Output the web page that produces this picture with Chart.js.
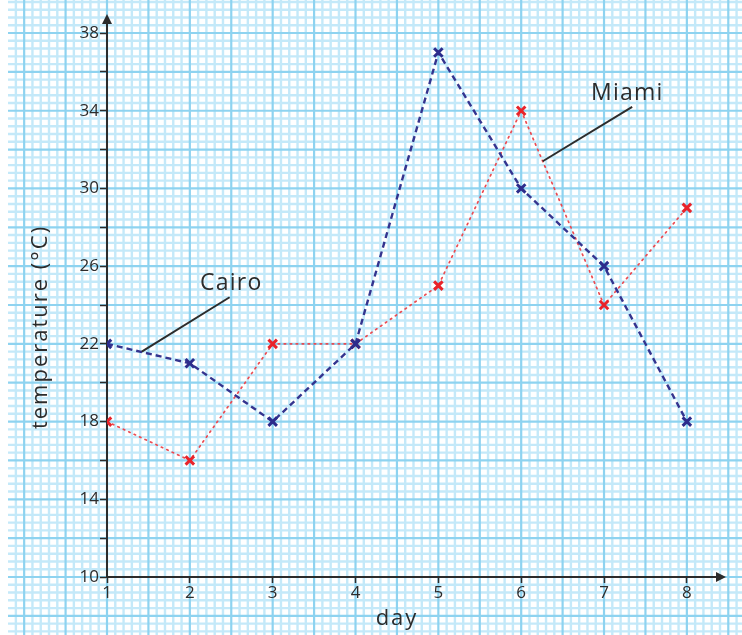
<!DOCTYPE html>
<html>
<head>
<meta charset="utf-8">
<script src="https://cdn.jsdelivr.net/npm/chart.js@4"></script>
<style>
    html, body { margin: 0; padding: 0; background: #ffffff; }
    canvas { display: block; }
</style>
</head>
<body>
<canvas id="chart" width="742" height="635"></canvas>
<script>
// day numbers and daily temperatures
const days = [1, 2, 3, 4, 5, 6, 7, 8];
const cairoTemps = [22, 21, 18, 22, 37, 30, 26, 18];
const miamiTemps = [18, 16, 22, 22, 25, 34, 24, 29];
const yTickValues = [10, 12, 14, 16, 18, 20, 22, 24, 26, 28, 30, 32, 34, 36, 38];
const yLabelValues = [10, 14, 18, 22, 26, 30, 34, 38];

const INK = '#2c2c2c';
const FONT = '"Open Sans", "DejaVu Sans", sans-serif';

// callouts: label position and leader line, in data units
const callouts = [
    { text: 'Cairo', at: [2.5, 25.1], from: [2.48, 24.4], to: [1.42, 21.6] },
    { text: 'Miami', at: [7.28, 34.9], from: [7.34, 34.2], to: [6.26, 31.4] },
];

function toPoints(values) {
    return days.map((d, i) => ({ x: d, y: values[i] }));
}

const graphPaper = {
    id: 'graphPaper',
    beforeDraw(chart) {
        const { ctx, width, height, scales } = chart;
        const x0 = scales.x.getPixelForValue(1);
        const dx = scales.x.getPixelForValue(1.1) - x0;
        const y0 = scales.y.getPixelForValue(10);
        const dy = y0 - scales.y.getPixelForValue(10.4);
        ctx.save();
        ctx.fillStyle = '#ffffff';
        ctx.fillRect(0, 0, width, height);
        if (!(dx > 0) || !(dy > 0)) {
            ctx.restore();
            return;
        }

        const lines = [];
        const kx0 = Math.ceil((8 - x0) / dx);
        const kx1 = Math.floor((width - x0) / dx);
        for (let k = kx0; k <= kx1; k++) {
            lines.push({ v: true, p: x0 + k * dx, major: k % 5 === 0 });
        }
        const ky0 = Math.ceil((y0 - height) / dy);
        const ky1 = Math.floor(y0 / dy);
        for (let k = ky0; k <= ky1; k++) {
            lines.push({ v: false, p: y0 - k * dy, major: k % 5 === 0 });
        }
        [false, true].forEach((pass) => {
            lines.filter((l) => l.major === pass).forEach((l) => {
                ctx.beginPath();
                ctx.strokeStyle = l.major ? '#8ed3f0' : '#c4e9f9';
                ctx.lineWidth = l.major ? 2.2 : 2.4;
                if (l.v) {
                    ctx.moveTo(l.p, 0);
                    ctx.lineTo(l.p, height);
                } else {
                    ctx.moveTo(8, l.p);
                    ctx.lineTo(width, l.p);
                }
                ctx.stroke();
            });
        });
        ctx.restore();
    },
    afterDraw(chart) {
        const { ctx, chartArea } = chart;
        const ax = chartArea.left;
        const ay = chartArea.bottom;
        ctx.save();
        ctx.fillStyle = INK;
        // arrow heads
        ctx.beginPath();
        ctx.moveTo(ax, chartArea.top - 6);
        ctx.lineTo(ax - 5, chartArea.top + 4);
        ctx.lineTo(ax + 5, chartArea.top + 4);
        ctx.closePath();
        ctx.fill();
        ctx.beginPath();
        ctx.moveTo(chartArea.right + 6, ay);
        ctx.lineTo(chartArea.right - 4, ay - 5);
        ctx.lineTo(chartArea.right - 4, ay + 5);
        ctx.closePath();
        ctx.fill();

        // axis titles
        ctx.textAlign = 'center';
        ctx.textBaseline = 'middle';
        ctx.font = `22px ${FONT}`;
        ctx.letterSpacing = '2px';
        ctx.fillText('day', 397, 619);
        ctx.translate(41, 327);
        ctx.rotate(-Math.PI / 2);
        ctx.letterSpacing = '2px';
        ctx.fillText('temperature (°C)', 0, 0);
        ctx.restore();
    },
    afterDatasetsDraw(chart) {
        const { ctx, scales } = chart;
        const px = (p) => [scales.x.getPixelForValue(p[0]), scales.y.getPixelForValue(p[1])];
        ctx.save();
        callouts.forEach((c) => {
            const a = px(c.from);
            const b = px(c.to);
            ctx.beginPath();
            ctx.strokeStyle = INK;
            ctx.lineWidth = 2;
            ctx.moveTo(a[0], a[1]);
            ctx.lineTo(b[0], b[1]);
            ctx.stroke();
            const t = px(c.at);
            ctx.fillStyle = INK;
            ctx.font = `23px ${FONT}`;
            ctx.letterSpacing = '1.2px';
            ctx.textAlign = 'center';
            ctx.textBaseline = 'middle';
            ctx.fillText(c.text, t[0], t[1]);
        });
        ctx.restore();
    },
};

const tickFont = { family: FONT, size: 17 };

new Chart(document.getElementById('chart').getContext('2d'), {
    type: 'line',
    data: {
        datasets: [
            {
                label: 'Cairo',
                data: toPoints(cairoTemps),
                borderColor: '#34348f',
                borderWidth: 2.4,
                borderDash: [6, 4],
                pointStyle: 'crossRot',
                pointRadius: 6,
                pointBorderWidth: 3,
                pointBorderColor: '#2c2c8c',
                tension: 0,
            },
            {
                label: 'Miami',
                data: toPoints(miamiTemps),
                borderColor: '#ec4a50',
                borderWidth: 1.7,
                borderDash: [1.5, 4.5],
                borderCapStyle: 'round',
                pointStyle: 'crossRot',
                pointRadius: 6,
                pointBorderWidth: 3,
                pointBorderColor: '#e8232a',
                tension: 0,
            },
        ],
    },
    options: {
        responsive: false,
        animation: false,
        layout: { padding: { left: 0, top: 20, right: 22, bottom: 0 } },
        plugins: {
            legend: { display: false },
            tooltip: { enabled: false },
        },
        scales: {
            x: {
                type: 'linear',
                min: 1,
                max: 8.4,
                afterBuildTicks(scale) {
                    scale.ticks = days.map((d) => ({ value: d }));
                },
                afterFit(scale) {
                    scale.height = 58;
                },
                ticks: {
                    color: INK,
                    font: tickFont,
                    padding: 0,
                    maxRotation: 0,
                    autoSkip: false,
                },
                grid: {
                    drawOnChartArea: false,
                    color: INK,
                    tickLength: 6,
                    tickWidth: 1.5,
                },
                border: { color: INK, width: 2 },
            },
            y: {
                min: 10,
                max: 38.67,
                afterBuildTicks(scale) {
                    scale.ticks = yTickValues.map((v) => ({ value: v }));
                },
                afterFit(scale) {
                    scale.width = 107;
                },
                ticks: {
                    color: INK,
                    font: tickFont,
                    padding: 1,
                    autoSkip: false,
                    callback: (v) => (yLabelValues.includes(v) ? String(v) : ''),
                },
                grid: {
                    drawOnChartArea: false,
                    color: INK,
                    tickLength: 7,
                    tickWidth: 1.5,
                },
                border: { color: INK, width: 2 },
            },
        },
    },
    plugins: [graphPaper],
});
</script>
</body>
</html>
